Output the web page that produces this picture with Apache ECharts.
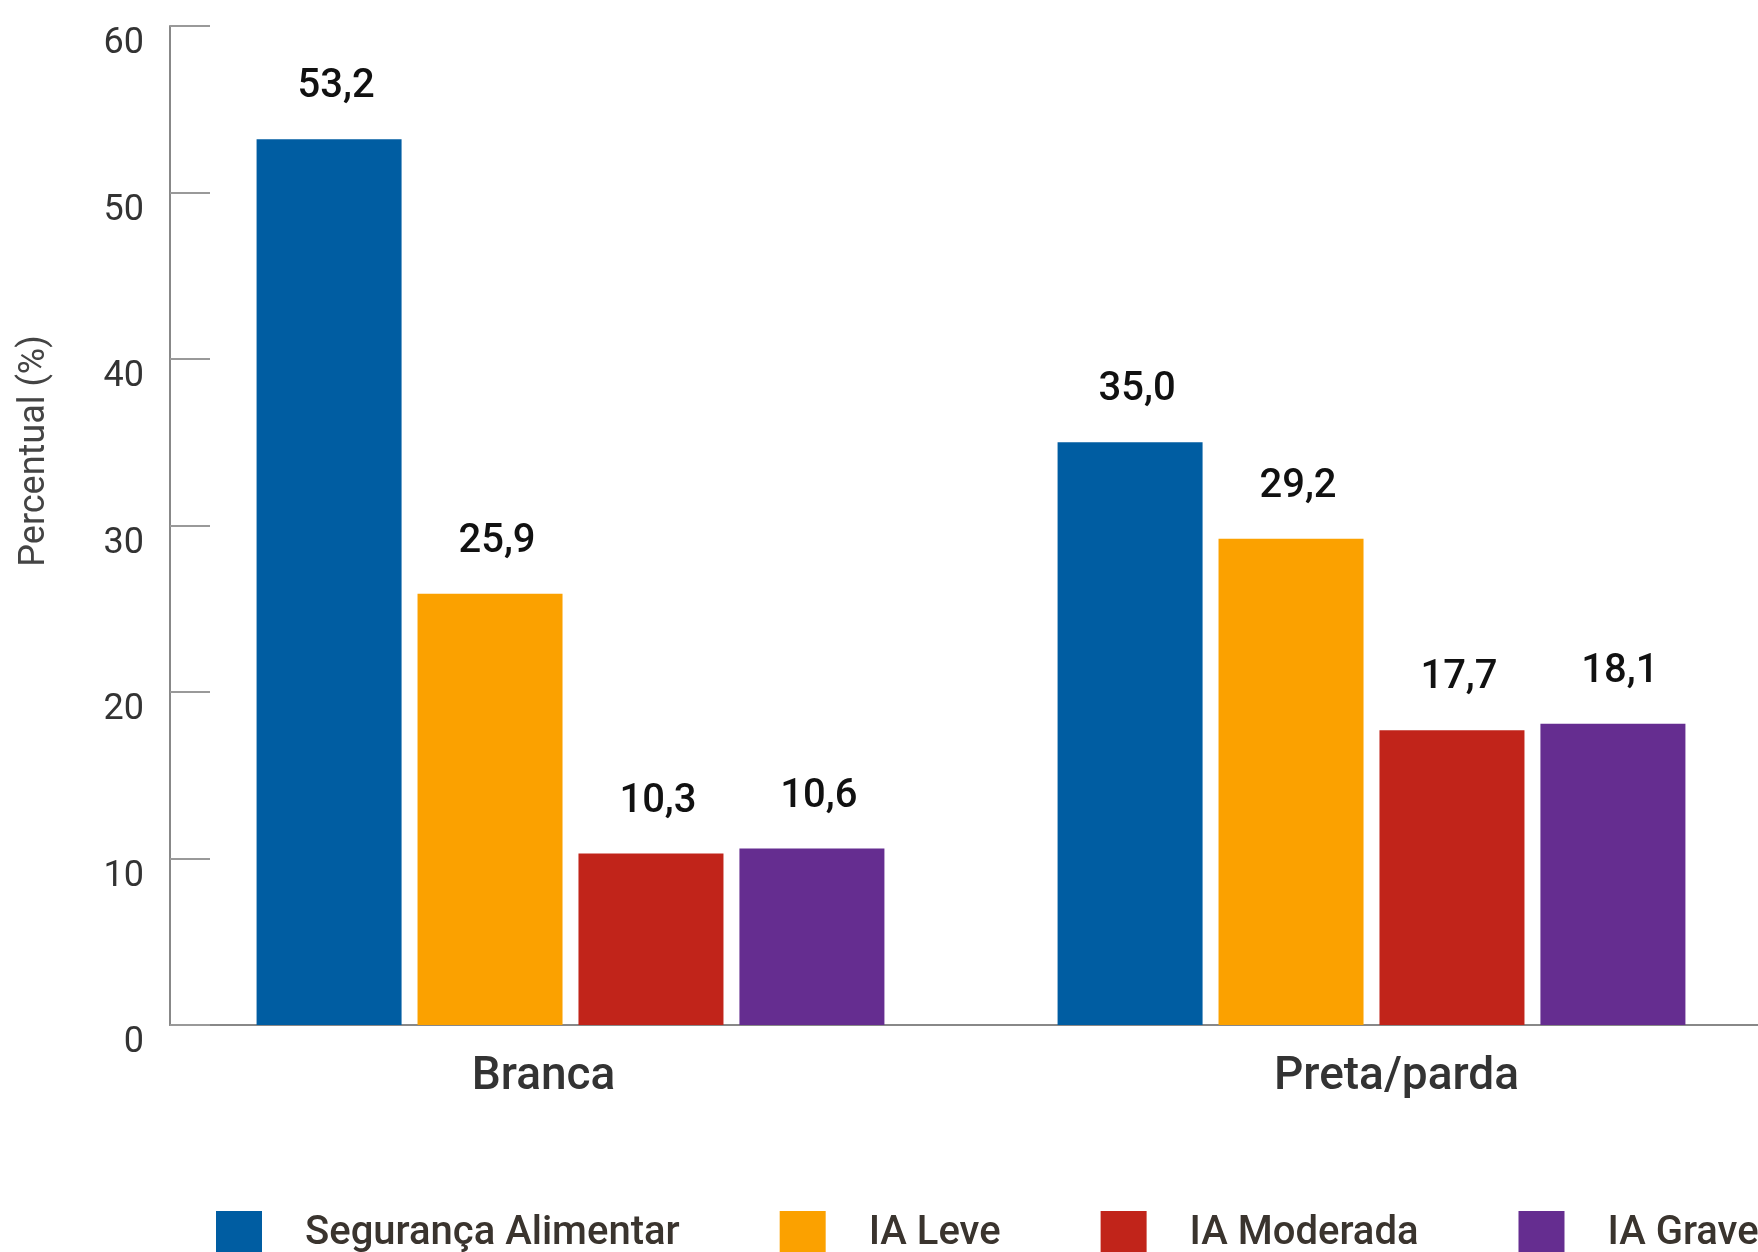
<!DOCTYPE html>
<html>
<head>
<meta charset="utf-8">
<script src="https://cdn.jsdelivr.net/npm/echarts@6/dist/echarts.min.js"></script>
<style>
  html, body { margin: 0; padding: 0; background: #fff; }
  #chart { width: 1758px; height: 1252px; }
</style>
</head>
<body>
<div id="chart"></div>
<script>
// dados
var categorias = ['Branca', 'Preta/parda']
var nomesSeries = ['Segurança Alimentar', 'IA Leve', 'IA Moderada', 'IA Grave']
var segurancaAlimentar = [53.2, 35.0]
var iaLeve = [25.9, 29.2]
var iaModerada = [10.3, 17.7]
var iaGrave = [10.6, 18.1]
var yTicks = [0, 10, 20, 30, 40, 50, 60]

var cores = ['#005DA2', '#FBA100', '#C1241A', '#652D90']
var valores = [segurancaAlimentar, iaLeve, iaModerada, iaGrave]
var fonte = 'Roboto, "Noto Sans", sans-serif'

var myChart = echarts.init(document.getElementById('chart'))

var series = nomesSeries.map(function (nome, i) {
    return {
        name: nome,
        type: 'bar',
        data: valores[i],
        barWidth: 145,
        barGap: '11%',
        itemStyle: { color: cores[i] },
        label: {
            show: true,
            position: 'top',
            distance: 32,
            offset: [7, 0],
            fontFamily: fonte,
            fontSize: 40,
            fontWeight: 500,
            color: '#111',
            formatter: function (p) {
                return p.value.toFixed(1).replace('.', ',')
            }
        }
    }
})

var option = {
    animation: false,
    grid: {
        left: 170,
        top: 26,
        bottom: 227,
        right: -14,
        outerBoundsMode: 'none',
        containLabel: false
    },
    legend: {
        data: nomesSeries,
        left: 216,
        top: 1211,
        width: 2400,
        padding: 0,
        icon: 'rect',
        itemWidth: 46,
        itemHeight: 46,
        itemGap: 100,
        textStyle: {
            fontFamily: fonte,
            fontSize: 40,
            fontWeight: 500,
            color: '#3a342e',
            padding: [0, 0, 0, 38]
        }
    },
    graphic: [{
        type: 'text',
        x: 35,
        y: 451,
        rotation: Math.PI / 2,
        style: {
            text: 'Percentual (%)',
            fontFamily: fonte,
            fontSize: 36,
            fill: '#444',
            align: 'center',
            verticalAlign: 'middle'
        }
    }],
    xAxis: {
        type: 'category',
        data: categorias,
        axisLine: { lineStyle: { color: '#888', width: 2 } },
        axisTick: { show: false },
        axisLabel: {
            margin: 29,
            formatter: function (v, idx) {
                return idx === 0 ? '{l|' + v + '}' : '{r|' + v + '}'
            },
            rich: {
                l: { fontFamily: fonte, fontSize: 46, fontWeight: 500, color: '#333', padding: [0, 54, 0, 0] },
                r: { fontFamily: fonte, fontSize: 46, fontWeight: 500, color: '#333', padding: [0, 0, 0, 50] }
            }
        }
    },
    yAxis: {
        type: 'value',
        min: yTicks[0],
        max: yTicks[yTicks.length - 1],
        interval: 10,
        splitLine: { show: false },
        axisLine: { show: true, lineStyle: { color: '#888', width: 2 } },
        axisTick: {
            show: true,
            inside: true,
            length: 40,
            lineStyle: { color: '#999', width: 2 }
        },
        axisLabel: {
            margin: 26,
            fontFamily: fonte,
            fontSize: 36,
            color: '#333',
            verticalAlign: 'top'
        }
    },
    series: series
}

myChart.setOption(option)
window.addEventListener('resize', function () {
    myChart.resize()
})
</script>
</body>
</html>
